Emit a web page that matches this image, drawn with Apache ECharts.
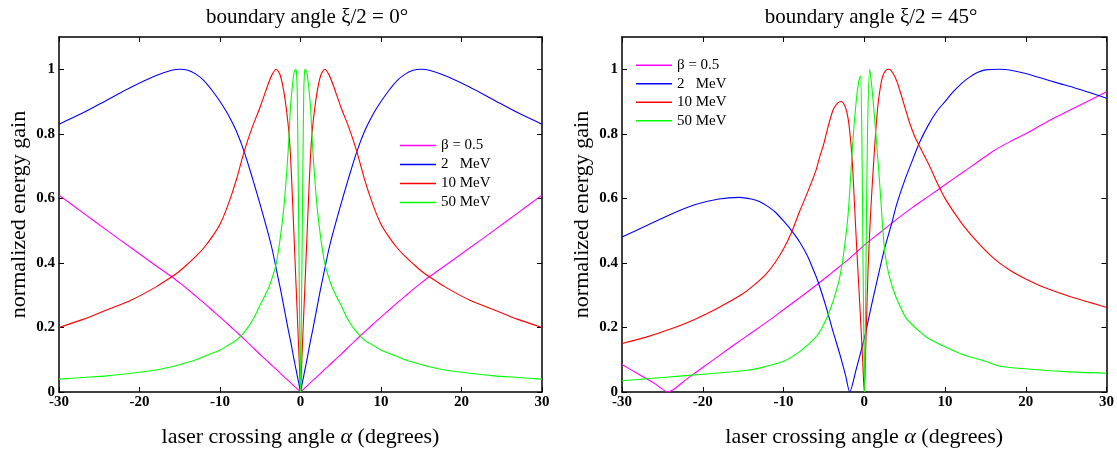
<!DOCTYPE html>
<html>
<head>
<meta charset="utf-8">
<script src="https://cdn.jsdelivr.net/npm/echarts@6/dist/echarts.min.js"></script>
<style>html,body{margin:0;padding:0;background:#fff}#c{width:1117px;height:453px}</style>
</head>
<body>
<div id="c"></div>
<script>
// ---------- data ----------
const titles = ['boundary angle \u03be/2 = 0\u00b0', 'boundary angle \u03be/2 = 45\u00b0'];
const seriesNames = ['\u03b2 = 0.5', '2   MeV', '10 MeV', '50 MeV'];
const seriesColors = ['#ff00ff', '#0000ff', '#ff0000', '#00ff00'];
const xTicks = [-30, -20, -10, 0, 10, 20, 30];
const yTicks = [0, 0.2, 0.4, 0.6, 0.8, 1];

// left panel (xi/2 = 0)
const leftX = [-30,-27,-24,-21,-18,-16,-15,-14,-13,-12,-11,-10,-9,-8,-7,-6,-5,-4,-3.5,-3,-2.5,-2,-1.5,-1.25,-1,-0.8,-0.6,-0.5,-0.4,-0.3,-0.2,-0.1,0,
  0.1,0.2,0.3,0.4,0.5,0.6,0.8,1,1.25,1.5,2,2.5,3,3.5,4,5,6,7,8,9,10,11,12,13,14,15,16,18,21,24,27,30];
const leftBeta = [0.61,0.555,0.5,0.446,0.392,0.357,0.338,0.318,0.297,0.276,0.254,0.232,0.21,0.187,0.164,0.14,0.116,0.093,0.081,0.07,0.058,0.046,0.035,0.029,0.023,0.018,0.014,0.012,0.009,0.007,0.005,0.002,0,
  0.002,0.005,0.007,0.009,0.012,0.014,0.018,0.023,0.029,0.035,0.046,0.058,0.07,0.081,0.093,0.116,0.14,0.164,0.187,0.21,0.232,0.254,0.276,0.297,0.318,0.338,0.357,0.392,0.446,0.5,0.555,0.61];
const left2MeV = [0.83,0.865,0.905,0.945,0.98,0.997,1.0,0.997,0.985,0.965,0.935,0.9,0.86,0.81,0.745,0.665,0.58,0.49,0.44,0.38,0.32,0.255,0.19,0.16,0.127,0.1,0.075,0.063,0.05,0.038,0.025,0.013,0,
  0.013,0.025,0.038,0.05,0.063,0.075,0.1,0.127,0.16,0.19,0.255,0.32,0.38,0.44,0.49,0.58,0.665,0.745,0.81,0.86,0.9,0.935,0.965,0.985,0.997,1.0,0.997,0.98,0.945,0.905,0.865,0.83];
const left10MeV = [0.2,0.225,0.255,0.285,0.325,0.357,0.375,0.397,0.42,0.447,0.48,0.52,0.58,0.655,0.745,0.82,0.884,0.955,0.985,1.0,0.98,0.92,0.82,0.735,0.6,0.48,0.36,0.3,0.24,0.18,0.12,0.06,0,
  0.06,0.12,0.18,0.24,0.3,0.36,0.48,0.6,0.735,0.82,0.92,0.98,1.0,0.985,0.955,0.884,0.82,0.745,0.655,0.58,0.52,0.48,0.447,0.42,0.397,0.375,0.357,0.325,0.285,0.255,0.225,0.2];
const left50MeV = [0.04,0.045,0.05,0.058,0.068,0.078,0.085,0.092,0.1,0.11,0.12,0.13,0.145,0.16,0.185,0.22,0.27,0.32,0.355,0.4,0.48,0.59,0.76,0.88,0.95,0.99,1.0,0.99,0.92,0.7,0.45,0.2,0,
  0.2,0.45,0.7,0.92,0.99,1.0,0.99,0.95,0.88,0.76,0.59,0.48,0.4,0.355,0.32,0.27,0.22,0.185,0.16,0.145,0.13,0.12,0.11,0.1,0.092,0.085,0.078,0.068,0.058,0.05,0.045,0.04];

// right panel (xi/2 = 45)
const rightBetaX = [-30,-28,-26,-24.3,-22,-20,-18,-16,-14,-12,-10,-8,-6,-4,-2,0,2,4,6,8,10,12,14,16,18,20,22,24,26,28,30];
const rightBetaY = [0.085,0.056,0.027,0,0.04,0.076,0.112,0.148,0.183,0.218,0.255,0.292,0.33,0.37,0.41,0.455,0.495,0.535,0.572,0.607,0.642,0.677,0.712,0.747,0.775,0.8,0.828,0.855,0.88,0.905,0.93];
const right2MeVX = [-30,-27,-24,-21,-18,-15.5,-14,-13,-12,-11,-10,-9,-8,-7,-6,-5.7,-4.8,-3.86,-3,-2.3,-1.8,-1,0,1,2,2.5,3.37,4,5,6,6.8,8,9,10,11,12,13,14,15,16.8,18,20,22,24,26,28,30];
const right2MeVY = [0.48,0.515,0.55,0.58,0.598,0.603,0.598,0.59,0.576,0.557,0.53,0.5,0.465,0.42,0.36,0.34,0.27,0.187,0.115,0.05,0,0.07,0.166,0.28,0.39,0.443,0.52,0.58,0.655,0.72,0.771,0.83,0.87,0.9,0.93,0.955,0.975,0.99,0.998,1.0,0.998,0.987,0.972,0.957,0.943,0.927,0.91];
const right10MeVX = [-30,-27,-24,-21,-18,-15,-13,-12,-11,-10,-9,-8,-7,-6,-5.5,-5,-4.5,-3.86,-3.3,-2.8,-2.3,-1.9,-1.5,-1.2,-0.9,-0.55,-0.2,0,0.2,0.47,0.8,1.1,1.4,1.7,2,2.3,2.7,3.07,3.5,4,4.4,5,5.6,6.2,6.87,8,9,10,12,14,16,18,20,22,25,28,30];
const right10MeVY = [0.15,0.17,0.195,0.225,0.262,0.305,0.345,0.37,0.403,0.443,0.495,0.56,0.62,0.685,0.73,0.77,0.82,0.874,0.895,0.9,0.88,0.83,0.72,0.577,0.43,0.27,0.1,0,0.15,0.38,0.56,0.686,0.8,0.89,0.945,0.98,0.997,1.0,0.99,0.965,0.935,0.885,0.835,0.795,0.76,0.705,0.65,0.6,0.525,0.465,0.415,0.378,0.35,0.327,0.3,0.277,0.262];
const right50MeVX = [-30,-25,-20,-15,-13,-10,-8,-6,-5,-4.3,-3.5,-3,-2.6,-2,-1.4,-1,-0.7,-0.47,-0.3,-0.15,0.05,0.2,0.4,0.68,1,1.5,1.9,2.5,3,3.56,4,5.2,6.87,8,10,12,15,16.8,20,25,30];
const right50MeVY = [0.035,0.045,0.055,0.066,0.074,0.095,0.125,0.17,0.21,0.25,0.31,0.36,0.42,0.55,0.78,0.9,0.96,0.98,0.8,0.4,0,0.35,0.8,1.0,0.93,0.78,0.65,0.443,0.37,0.32,0.29,0.228,0.187,0.165,0.14,0.118,0.095,0.08,0.072,0.063,0.058];

// ---------- chart ----------
const zip = (xs, ys) => xs.map((x, i) => [x, ys[i]]);
const SERIF = "'Liberation Serif', 'DejaVu Serif', serif";
const panels = [
  { left: 59, width: 483, cx: 302, legendLeft: 395, legendTop: 131, lh: 19,
    data: [zip(leftX, leftBeta), zip(leftX, left2MeV), zip(leftX, left10MeV), zip(leftX, left50MeV)] },
  { left: 622, width: 485, cx: 866, legendLeft: 631, legendTop: 51, lh: 18.5,
    data: [zip(rightBetaX, rightBetaY), zip(right2MeVX, right2MeVY), zip(right10MeVX, right10MeVY), zip(right50MeVX, right50MeVY)] }
];

const grid = [], xAxis = [], yAxis = [], series = [], title = [], legend = [];
const tickStyle = { show: true, inside: true, length: 5, lineStyle: { color: '#000', width: 1 } };
const lineStyleAx = { show: true, onZero: false, lineStyle: { color: '#000', width: 1.5 } };
const labelStyle = { fontFamily: SERIF, fontWeight: 'bold', fontSize: 15, color: '#000' };

panels.forEach((p, gi) => {
  grid.push({ left: p.left, top: 37, width: p.width, height: 357, containLabel: false });
  title.push({ text: titles[gi], left: p.cx, top: 2, textAlign: 'center',
    textStyle: { fontFamily: SERIF, fontWeight: 'normal', fontSize: 21, color: '#000' } });
  xAxis.push({ type: 'value', gridIndex: gi, min: -30, max: 30, interval: 10, position: 'bottom',
    axisLine: lineStyleAx, axisTick: tickStyle, splitLine: { show: false },
    axisLabel: Object.assign({ margin: 3 }, labelStyle),
    name: '{n|laser crossing angle }{a|\u03b1}{n| (degrees)}', nameLocation: 'middle', nameGap: 34,
    nameTextStyle: { rich: { n: { fontFamily: SERIF, fontSize: 22, color: '#000' },
                             a: { fontFamily: SERIF, fontSize: 22, fontStyle: 'italic', color: '#000' } } } });
  xAxis.push({ type: 'value', gridIndex: gi, min: -30, max: 30, interval: 10, position: 'top',
    axisLine: lineStyleAx, axisTick: tickStyle, axisLabel: { show: false }, splitLine: { show: false } });
  yAxis.push({ type: 'value', gridIndex: gi, min: 0, max: 1.1, interval: 0.2, position: 'left',
    axisLine: lineStyleAx, axisTick: tickStyle, splitLine: { show: false },
    axisLabel: Object.assign({ margin: 4, showMaxLabel: false,
      formatter: v => (v > 1.05 ? '' : String(+v.toFixed(1))) }, labelStyle),
    name: 'normalized energy gain', nameLocation: 'middle', nameGap: 29,
    nameTextStyle: { fontFamily: SERIF, fontSize: 22, color: '#000' } });
  yAxis.push({ type: 'value', gridIndex: gi, min: 0, max: 1.1, interval: 0.2, position: 'right',
    axisLine: lineStyleAx, axisTick: tickStyle, axisLabel: { show: false }, splitLine: { show: false } });

  p.data.forEach((d, si) => {
    series.push({ type: 'line', name: seriesNames[si], xAxisIndex: gi * 2, yAxisIndex: gi * 2,
      data: d, showSymbol: false, symbol: 'none', smooth: 0.25,
      lineStyle: { color: seriesColors[si], width: 1.1 }, itemStyle: { color: seriesColors[si] },
      z: 2 + si, silent: true });
  });

  legend.push({ orient: 'vertical', left: p.legendLeft, top: p.legendTop, data: seriesNames,
    icon: 'rect', itemWidth: 36, itemHeight: 1.5, itemGap: 0, selectedMode: false,
    textStyle: { fontFamily: SERIF, fontSize: 15, color: '#000', lineHeight: p.lh } });
});

const chart = echarts.init(document.getElementById('c'), null, { renderer: 'canvas' });
chart.setOption({ animation: false, backgroundColor: '#fff', title, grid, xAxis, yAxis, legend, series });
</script>
</body>
</html>
